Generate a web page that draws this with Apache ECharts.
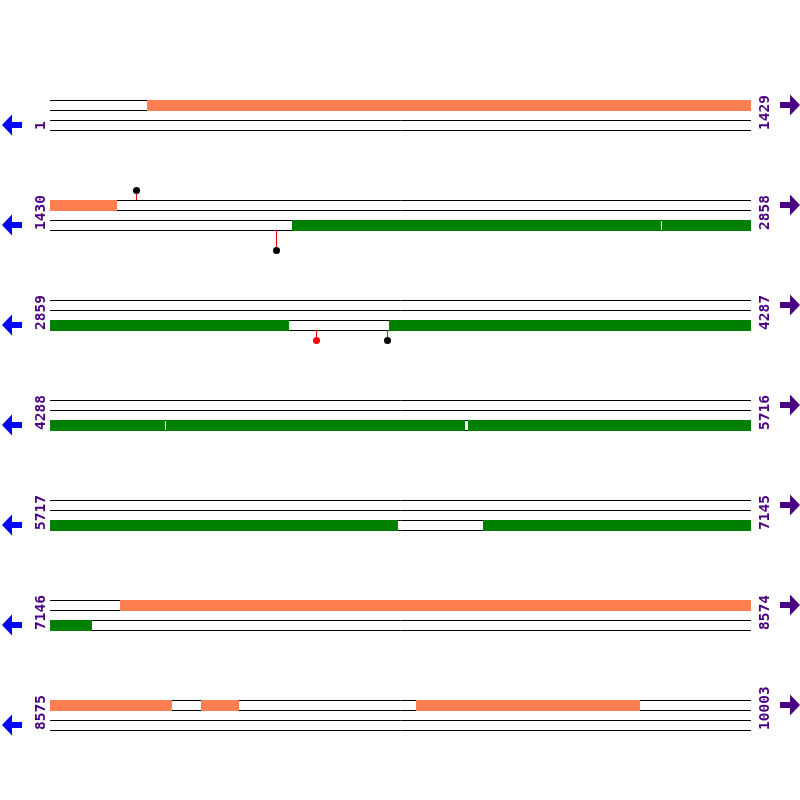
<!DOCTYPE html>
<html>
<head>
<meta charset="utf-8">
<script src="https://cdn.jsdelivr.net/npm/echarts@6/dist/echarts.min.js"></script>
<style>html,body{margin:0;padding:0;background:#fff;}#c{width:800px;height:800px;}</style>
</head>
<body>
<div id="c"></div>
<script>
// ---- data ----
const rowStarts = [1, 1430, 2859, 4288, 5717, 7146, 8575];
const rowEnds   = [1429, 2858, 4287, 5716, 7145, 8574, 10003];
const forwardFeatures = [[199, 1566], [7289, 8822], [8883, 8960], [9321, 9776]];
const reverseFeatures = [[1923, 2674], [2678, 3346], [3550, 4522], [4525, 5134], [5140, 6426], [6600, 7230]];
const markerPos    = [1605, 1891, 3401, 3546];
const markerStrand = ['top', 'bottom', 'bottom', 'bottom'];
const markerType   = ['A', 'A', 'B', 'A'];
const markerLevel  = [1, 2, 1, 1];

// ---- styling ----
const ROW_LEN = 1429;
const COLORS = { fwd: '#FF7F50', rev: '#008000', label: '#4B0082', leftArrow: '#0000FF', rightArrow: '#4B0082', A: '#000000', B: '#FF0000', stem: '#FF0000' };
const rowY = k => 10 + 10 * k;

// split features by row
function splitFeatures(list, track) {
  const out = [];
  list.forEach(([s, e]) => {
    rowStarts.forEach((rs, k) => {
      const re = rowEnds[k];
      const a = Math.max(s, rs), b = Math.min(e, re);
      if (a <= b) out.push([a - rs, b - rs + 1, k, track]);
    });
  });
  return out;
}
const featData = splitFeatures(forwardFeatures, 0).concat(splitFeatures(reverseFeatures, 1));

function rowOf(p) { for (let k = 0; k < rowStarts.length; k++) if (p >= rowStarts[k] && p <= rowEnds[k]) return k; return 0; }
const markerData = markerPos.map((p, i) => { const k = rowOf(p); return [p - rowStarts[k] + 0.5, k, markerStrand[i] === 'top' ? 0 : 1, markerLevel[i], i]; });

const rowData = rowStarts.map((s, k) => [k]);

const FONT = 'bold 14.5px "DejaVu Sans Mono"';

const option = {
  animation: false,
  grid: { left: 50, right: 49, top: 0, bottom: 0 },
  xAxis: { type: 'value', min: 0, max: ROW_LEN, show: false },
  yAxis: { type: 'value', min: 0, max: 80, inverse: true, show: false },
  series: [
    { // track lines, labels, arrows
      type: 'custom', z: 1, data: rowData, silent: true,
      renderItem: function (params, api) {
        const k = api.value(0);
        const y0 = rowY(k);
        const xL = Math.round(api.coord([0, y0])[0]);
        const xR = Math.round(api.coord([ROW_LEN, y0])[0]);
        const children = [];
        for (let j = 0; j < 4; j++) {
          const py = Math.round(api.coord([0, y0 + j])[1]) + 0.5;
          children.push({ type: 'line', shape: { x1: xL, y1: py, x2: xR, y2: py }, style: { stroke: '#000', lineWidth: 1 } });
        }
        const base = Math.round(api.coord([0, y0])[1]);
        const bottom = Math.round(api.coord([0, y0 + 3])[1]);
        children.push({ type: 'text', x: xL - 9, y: bottom, rotation: Math.PI / 2,
          style: { text: String(rowStarts[k]), fill: COLORS.label, font: FONT, align: 'left', verticalAlign: 'middle' } });
        children.push({ type: 'text', x: xR + 14.5, y: bottom, rotation: Math.PI / 2,
          style: { text: String(rowEnds[k]), fill: COLORS.label, font: FONT, align: 'left', verticalAlign: 'middle' } });
        // left arrow (reverse strand)
        const cy = base + 25, lx = xL - 49;
        children.push({ type: 'polygon', shape: { points: [[lx + 1, cy], [lx + 11, cy - 10.5], [lx + 11, cy - 3], [lx + 21, cy - 3], [lx + 21, cy + 3], [lx + 11, cy + 3], [lx + 11, cy + 10.5]] }, style: { fill: COLORS.leftArrow } });
        // right arrow (forward strand)
        const ry = base + 5, rx = xR + 29;
        children.push({ type: 'polygon', shape: { points: [[rx + 20, ry], [rx + 10, ry - 10.5], [rx + 10, ry - 3], [rx, ry - 3], [rx, ry + 3], [rx + 10, ry + 3], [rx + 10, ry + 10.5]] }, style: { fill: COLORS.rightArrow } });
        return { type: 'group', children };
      }
    },
    { // features
      type: 'custom', z: 2, data: featData, silent: true,
      renderItem: function (params, api) {
        const s = api.value(0), e = api.value(1), k = api.value(2), t = api.value(3);
        const yv = rowY(k) + t * 2;
        const p0 = api.coord([s, yv]), p1 = api.coord([e, yv + 1]);
        const x0 = Math.round(p0[0]), x1 = Math.round(p1[0]);
        const y0 = Math.round(p0[1]), y1 = Math.round(p1[1]) + 1;
        return { type: 'rect', shape: { x: x0, y: y0, width: Math.max(1, x1 - x0), height: y1 - y0 }, style: { fill: t === 0 ? COLORS.fwd : COLORS.rev } };
      }
    },
    { // markers
      type: 'custom', z: 3, data: markerData, silent: true,
      renderItem: function (params, api) {
        const off = api.value(0), k = api.value(1), t = api.value(2), lvl = api.value(3), i = api.value(4);
        const yStart = t === 0 ? rowY(k) : rowY(k) + 3;
        const yEnd = t === 0 ? yStart - lvl : yStart + lvl;
        const p0 = api.coord([off, yStart]), p1 = api.coord([off, yEnd]);
        const x = Math.floor(p0[0]) + 0.5;
        return { type: 'group', children: [
          { type: 'line', shape: { x1: x, y1: Math.round(p0[1]), x2: x, y2: Math.round(p1[1]) }, style: { stroke: COLORS.stem, lineWidth: 1 } },
          { type: 'circle', shape: { cx: x, cy: Math.round(p1[1]) + 0.5, r: 3.5 }, style: { fill: COLORS[markerType[i]] } }
        ] };
      }
    }
  ]
};
echarts.init(document.getElementById('c'), null, { renderer: 'canvas' }).setOption(option);
</script>
</body>
</html>
